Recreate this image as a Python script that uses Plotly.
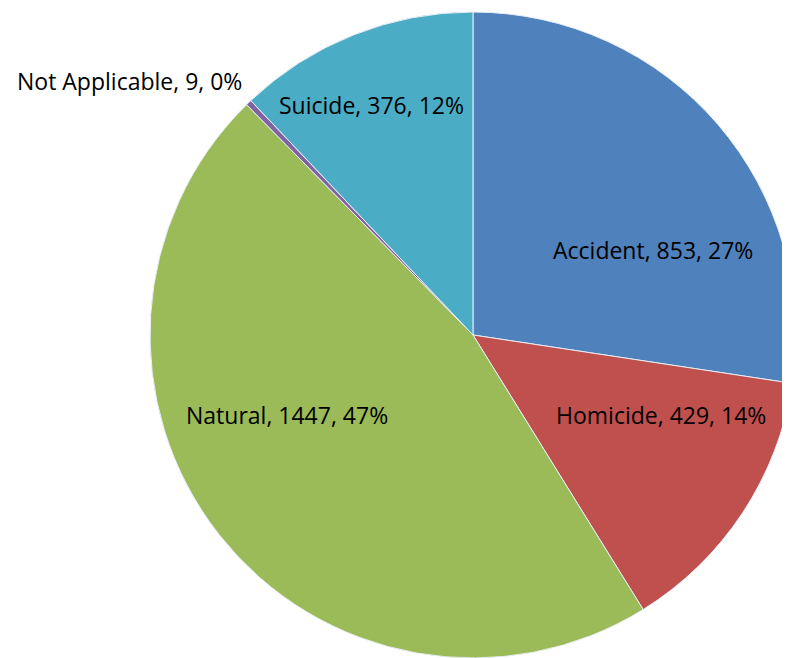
import plotly.graph_objects as go

# Manner of death counts
labels = ["Accident", "Homicide", "Natural", "Not Applicable", "Suicide"]
counts = [853, 429, 1447, 9, 376]
pct_labels = ["27%", "14%", "47%", "0%", "12%"]
colors = ["#4F81BD", "#C0504D", "#9BBB59", "#8064A2", "#4BACC6"]

# label anchor positions (pixels in the figure; the page adds an 8px body margin)
label_px = [(644.5, 241.5, "center"), (653, 407.5, "center"), (278.5, 407, "center"),
            (236, 73, "right"), (363, 97.5, "center")]

W, H = 790, 658

fig = go.Figure()
fig.add_trace(go.Pie(labels=labels, values=counts, sort=False, direction="clockwise",
                     rotation=0, marker=dict(colors=colors, line=dict(color="#E8EEF6", width=1)),
                     textinfo="none", showlegend=False,
                     hoverinfo="label+value+percent",
                     domain=dict(x=[0.1797, 0.9975], y=[0.0122, 0.9939])))

for lab, cnt, pct, (px, py, anchor) in zip(labels, counts, pct_labels, label_px):
    fig.add_annotation(text=f"{lab}, {cnt}, {pct}", x=px / W, y=1 - py / H,
                       xref="paper", yref="paper", xanchor=anchor, yanchor="middle",
                       showarrow=False, font=dict(family="Open Sans", size=23, color="black"))

fig.update_layout(width=W, height=H, margin=dict(l=0, r=0, t=0, b=0),
                  paper_bgcolor="white", plot_bgcolor="white")
fig.write_html("out.html")
